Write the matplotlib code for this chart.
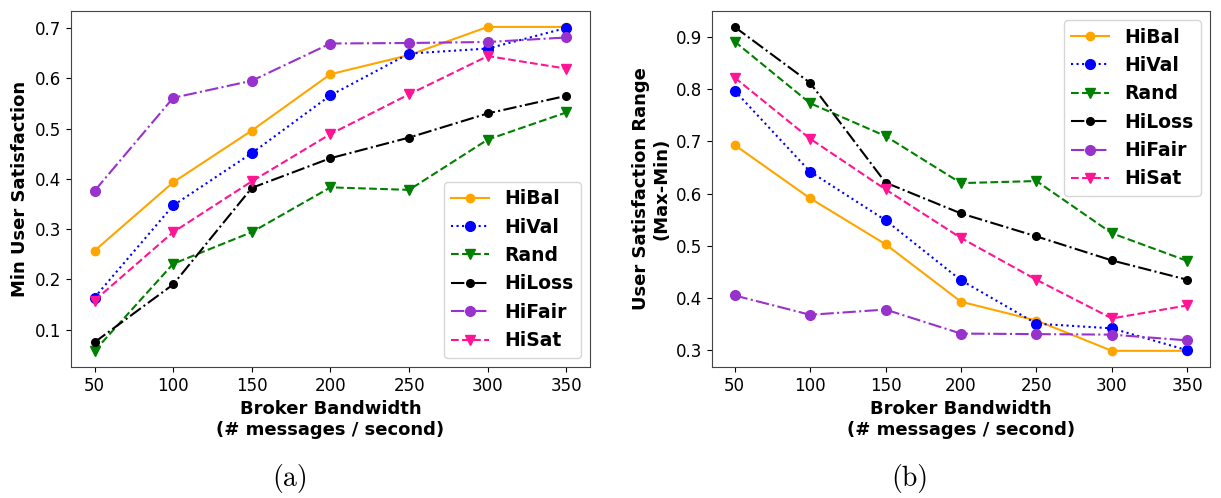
import matplotlib
matplotlib.use("Agg")
import matplotlib.pyplot as plt

bandwidth = [50, 100, 150, 200, 250, 300, 350]
series_names = ["HiBal", "HiVal", "Rand", "HiLoss", "HiFair", "HiSat"]

# (a) minimum user satisfaction
min_sat = {
    "HiBal":  [0.257, 0.393, 0.496, 0.608, 0.646, 0.702, 0.702],
    "HiVal":  [0.164, 0.347, 0.451, 0.566, 0.649, 0.659, 0.700],
    "Rand":   [0.058, 0.231, 0.294, 0.383, 0.378, 0.478, 0.532],
    "HiLoss": [0.075, 0.190, 0.382, 0.441, 0.482, 0.530, 0.565],
    "HiFair": [0.376, 0.561, 0.595, 0.669, 0.670, 0.672, 0.681],
    "HiSat":  [0.158, 0.294, 0.395, 0.489, 0.568, 0.644, 0.619],
}

# (b) satisfaction range (max - min)
sat_range = {
    "HiBal":  [0.693, 0.591, 0.503, 0.393, 0.357, 0.299, 0.299],
    "HiVal":  [0.797, 0.642, 0.549, 0.434, 0.351, 0.342, 0.300],
    "Rand":   [0.891, 0.773, 0.710, 0.620, 0.624, 0.524, 0.471],
    "HiLoss": [0.919, 0.812, 0.621, 0.562, 0.518, 0.472, 0.435],
    "HiFair": [0.405, 0.368, 0.378, 0.332, 0.331, 0.330, 0.319],
    "HiSat":  [0.822, 0.705, 0.608, 0.515, 0.435, 0.361, 0.386],
}

styles = {
    "HiBal":  dict(color="orange", linestyle="-", marker="o", markersize=6),
    "HiVal":  dict(color="blue", linestyle=":", marker="o", markersize=7),
    "Rand":   dict(color="green", linestyle="--", marker="v", markersize=7),
    "HiLoss": dict(color="black", linestyle="-.", marker="o", markersize=5.5),
    "HiFair": dict(color="darkorchid", linestyle="-.", marker="o", markersize=7),
    "HiSat":  dict(color="deeppink", linestyle="--", marker="v", markersize=7),
}

fig = plt.figure(figsize=(12.21, 4.98), dpi=100)
ax1 = fig.add_axes([0.0581, 0.263, 0.4251, 0.7155])
ax2 = fig.add_axes([0.5831, 0.263, 0.4079, 0.7155])

for ax, data, ylabel, loc in [
    (ax1, min_sat, "Min User Satisfaction", "lower right"),
    (ax2, sat_range, "User Satisfaction Range\n(Max-Min)", "upper right"),
]:
    for name in series_names:
        ax.plot(bandwidth, data[name], label=name, linewidth=1.5, **styles[name])
    ax.set_xticks(bandwidth)
    ax.tick_params(labelsize=12)
    ax.set_xlabel("Broker Bandwidth\n(# messages / second)", fontsize=13,
                  fontweight="bold")
    ax.set_ylabel(ylabel, fontsize=13, fontweight="bold")
    for sp in ax.spines.values():
        sp.set_color("#444444")
    ax.legend(loc=loc, prop={"weight": "bold", "size": 13.5})

fig.text(0.238, 0.04, "(a)", fontsize=20, family="cmr10", ha="center", va="center")
fig.text(0.745, 0.04, "(b)", fontsize=20, family="cmr10", ha="center", va="center")

fig.savefig("out.png", dpi=100)
